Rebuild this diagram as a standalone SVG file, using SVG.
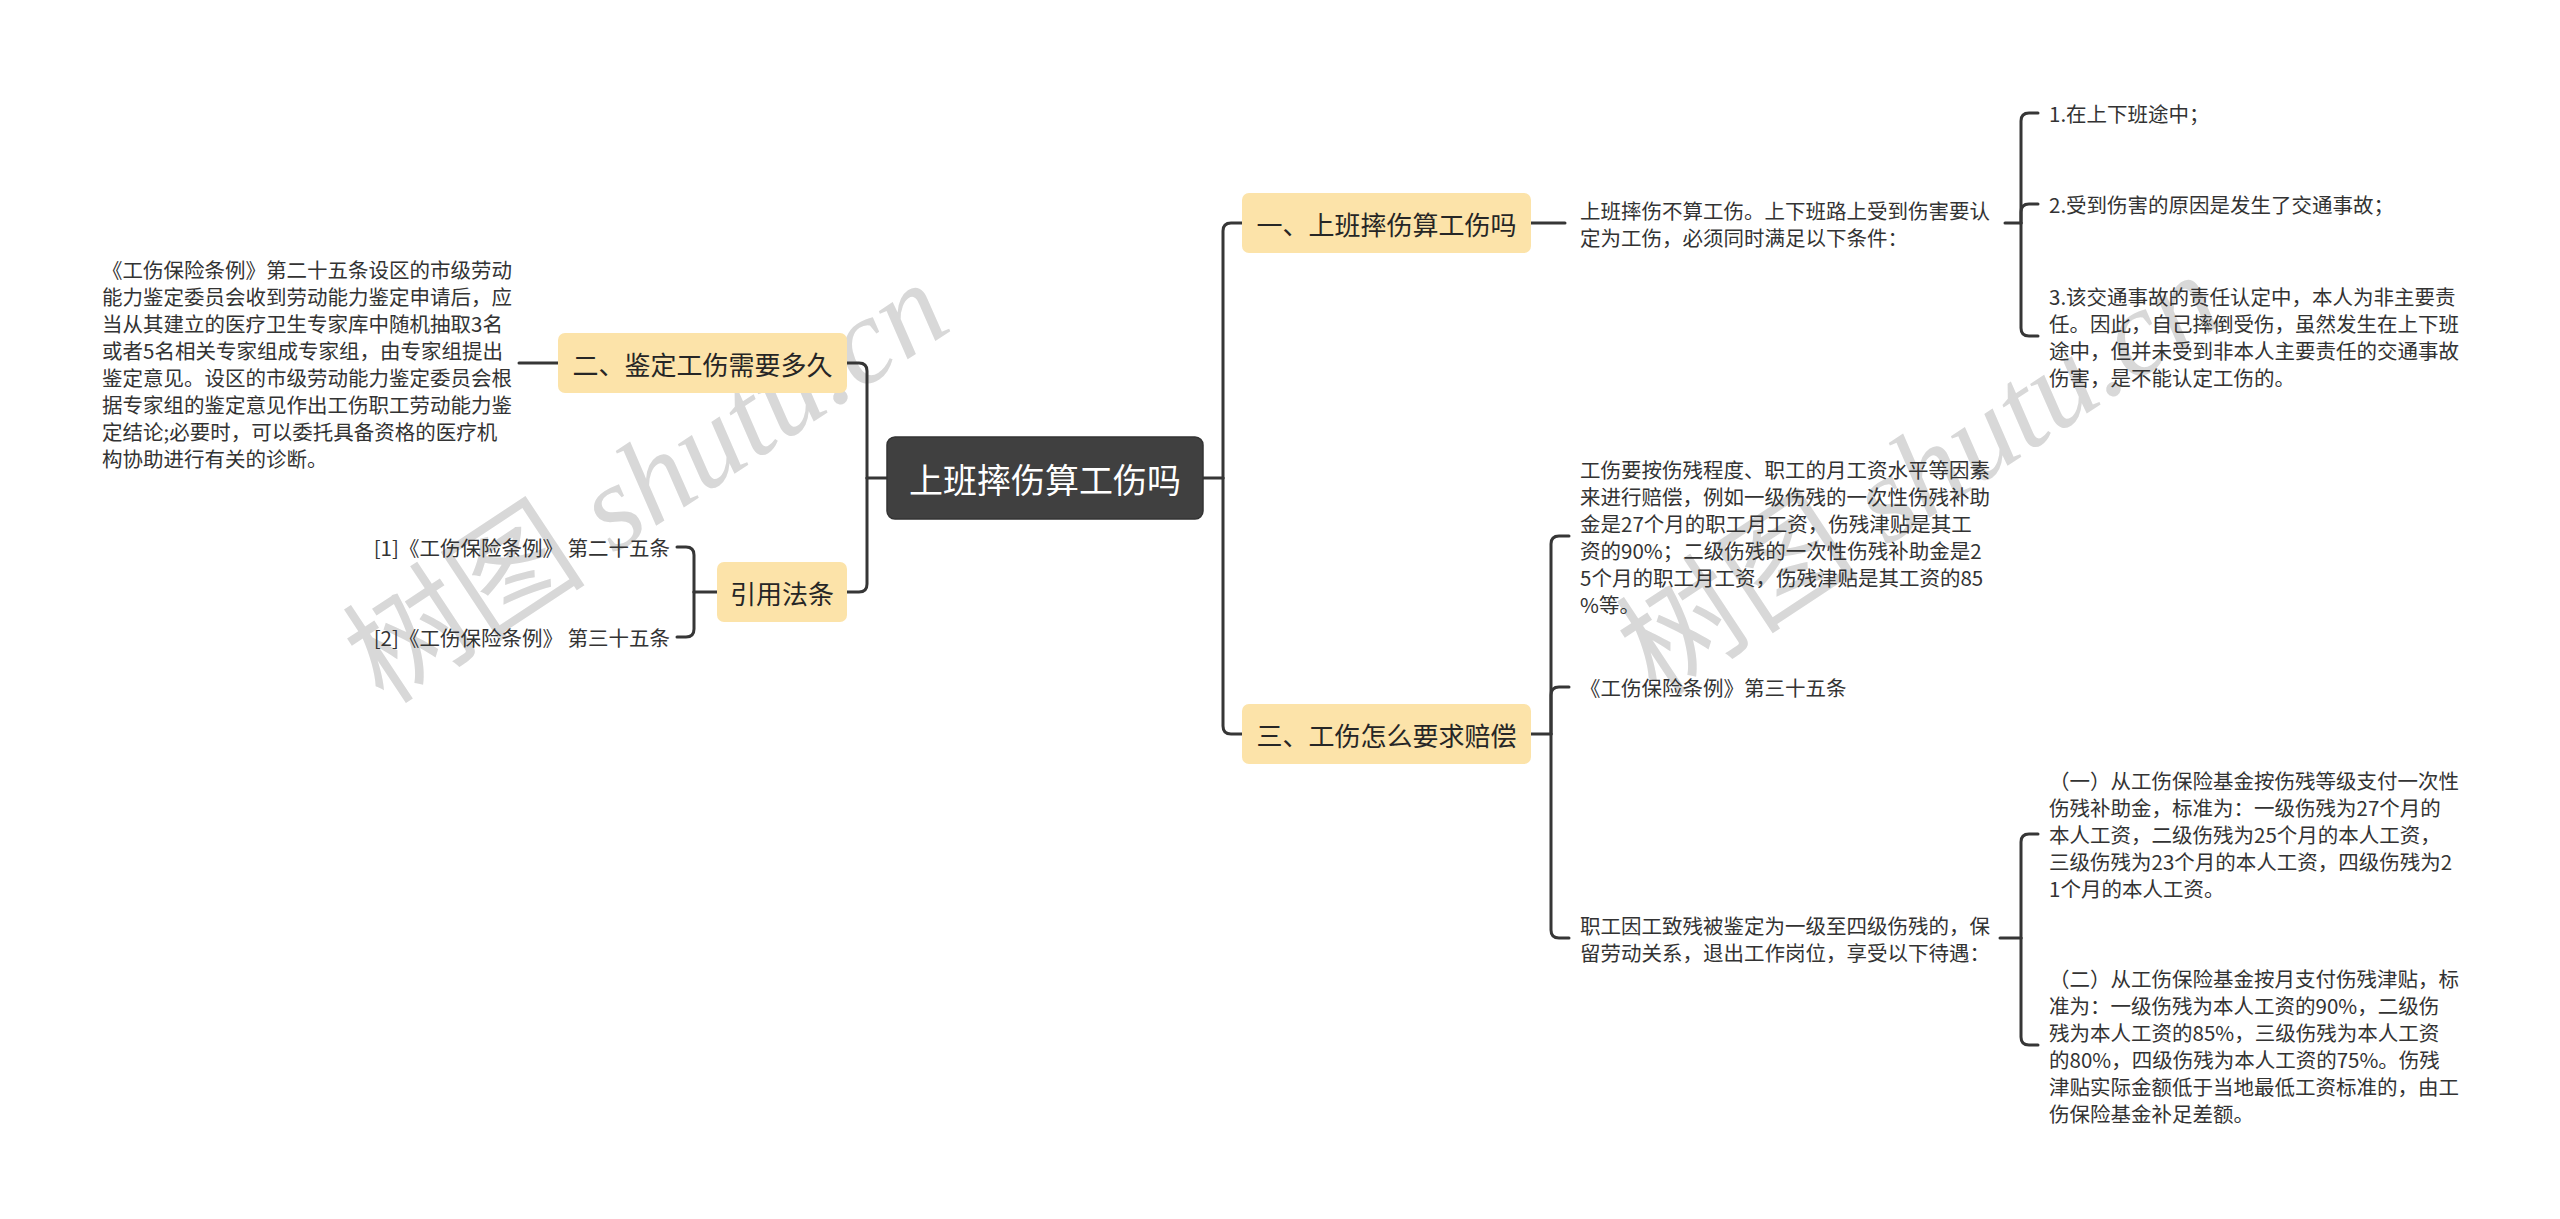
<svg xmlns="http://www.w3.org/2000/svg" width="2560" height="1219" viewBox="0 0 2560 1219">
<style>
text{font-family:"Noto Sans CJK SC","Noto Sans",sans-serif;}
.t{font-size:20.5px;fill:#333333;dominant-baseline:central;}
.l1{font-size:26px;fill:#262626;dominant-baseline:central;text-anchor:middle;}
.root{font-size:34px;fill:#ffffff;dominant-baseline:central;text-anchor:middle;}
.box1{fill:#FCE3A9;}
.rootbox{fill:#404040;stroke:#333333;stroke-width:1.5;}
.c{fill:none;stroke:#363636;stroke-width:3;stroke-linecap:round;}
.wm{font-size:122px;fill:#d8d8d8;}
.wmc{font-family:"Noto Sans CJK SC",sans-serif;font-weight:400;}
.wml{font-family:"Liberation Serif",serif;font-style:italic;}
</style>
<rect x="0" y="0" width="2560" height="1219" fill="#ffffff"/>
<g id="watermark">
<text class="wm" transform="translate(384,706) rotate(-33.5)"><tspan class="wmc">树图</tspan><tspan class="wml"> shutu.cn</tspan></text>
<text class="wm" transform="translate(1657,698) rotate(-33.5)"><tspan class="wmc">树图</tspan><tspan class="wml"> shutu.cn</tspan></text>
</g>
<g id="connectors">
<path class="c" d="M1203,478 H1223"/>
<path class="c" d="M1223,478 V231 Q1223,223 1231,223 H1242"/>
<path class="c" d="M1223,478 V726 Q1223,734 1231,734 H1242"/>
<path class="c" d="M887,478 H867"/>
<path class="c" d="M867,478 V371 Q867,363 859,363 H847"/>
<path class="c" d="M867,478 V584 Q867,592 859,592 H847"/>
<path class="c" d="M558,363 H519"/>
<path class="c" d="M717,592 H694"/>
<path class="c" d="M694,592 V555 Q694,547 686,547 H677"/>
<path class="c" d="M694,592 V629 Q694,637 686,637 H677"/>
<path class="c" d="M1531,223 H1565"/>
<path class="c" d="M2005,223 H2021"/>
<path class="c" d="M2021,223 V121 Q2021,113 2029,113 H2038"/>
<path class="c" d="M2021,223 V212 Q2021,204 2029,204 H2038"/>
<path class="c" d="M2021,223 V328 Q2021,336 2029,336 H2038"/>
<path class="c" d="M1531,734 H1551"/>
<path class="c" d="M1551,734 V544 Q1551,536 1559,536 H1569"/>
<path class="c" d="M1551,734 V695 Q1551,687 1559,687 H1569"/>
<path class="c" d="M1551,734 V930 Q1551,938 1559,938 H1569"/>
<path class="c" d="M2000,938 H2021"/>
<path class="c" d="M2021,938 V842 Q2021,834 2029,834 H2038"/>
<path class="c" d="M2021,938 V1037 Q2021,1045 2029,1045 H2038"/>
</g>
<g id="root">
<rect class="rootbox" x="887" y="437" width="316" height="82" rx="8"/>
<text class="root" x="1045" y="478">上班摔伤算工伤吗</text>
</g>
<g id="n1">
<rect class="box1" x="1242" y="193" width="289" height="60" rx="7"/>
<text class="l1" x="1386.5" y="223">一、上班摔伤算工伤吗</text>
</g>
<g id="n2">
<rect class="box1" x="558" y="333" width="289" height="60" rx="7"/>
<text class="l1" x="702.5" y="363">二、鉴定工伤需要多久</text>
</g>
<g id="n3">
<rect class="box1" x="1242" y="704" width="289" height="60" rx="7"/>
<text class="l1" x="1386.5" y="734">三、工伤怎么要求赔偿</text>
</g>
<g id="n4">
<rect class="box1" x="717" y="562" width="130" height="60" rx="7"/>
<text class="l1" x="782" y="592">引用法条</text>
</g>
<g id="n2a">
<text class="t" x="102" y="269">《工伤保险条例》第二十五条设区的市级劳动</text>
<text class="t" x="102" y="296">能力鉴定委员会收到劳动能力鉴定申请后，应</text>
<text class="t" x="102" y="323">当从其建立的医疗卫生专家库中随机抽取3名</text>
<text class="t" x="102" y="350">或者5名相关专家组成专家组，由专家组提出</text>
<text class="t" x="102" y="377">鉴定意见。设区的市级劳动能力鉴定委员会根</text>
<text class="t" x="102" y="404">据专家组的鉴定意见作出工伤职工劳动能力鉴</text>
<text class="t" x="102" y="431">定结论;必要时，可以委托具备资格的医疗机</text>
<text class="t" x="102" y="458">构协助进行有关的诊断。</text>
</g>
<g id="n4a">
<text class="t" x="670" y="547" text-anchor="end">[1]《工伤保险条例》 第二十五条</text>
</g>
<g id="n4b">
<text class="t" x="670" y="637" text-anchor="end">[2]《工伤保险条例》 第三十五条</text>
</g>
<g id="n1a">
<text class="t" x="1580" y="210">上班摔伤不算工伤。上下班路上受到伤害要认</text>
<text class="t" x="1580" y="237">定为工伤，必须同时满足以下条件：</text>
</g>
<g id="n1a1">
<text class="t" x="2049" y="113">1.在上下班途中；</text>
</g>
<g id="n1a2">
<text class="t" x="2049" y="204">2.受到伤害的原因是发生了交通事故；</text>
</g>
<g id="n1a3">
<text class="t" x="2049" y="296">3.该交通事故的责任认定中，本人为非主要责</text>
<text class="t" x="2049" y="323">任。因此，自己摔倒受伤，虽然发生在上下班</text>
<text class="t" x="2049" y="350">途中，但并未受到非本人主要责任的交通事故</text>
<text class="t" x="2049" y="377">伤害，是不能认定工伤的。</text>
</g>
<g id="n3a">
<text class="t" x="1580" y="468.5">工伤要按伤残程度、职工的月工资水平等因素</text>
<text class="t" x="1580" y="495.5">来进行赔偿，例如一级伤残的一次性伤残补助</text>
<text class="t" x="1580" y="522.5">金是27个月的职工月工资，伤残津贴是其工</text>
<text class="t" x="1580" y="549.5">资的90%；二级伤残的一次性伤残补助金是2</text>
<text class="t" x="1580" y="576.5">5个月的职工月工资，伤残津贴是其工资的85</text>
<text class="t" x="1580" y="603.5">%等。</text>
</g>
<g id="n3b">
<text class="t" x="1580" y="687">《工伤保险条例》第三十五条</text>
</g>
<g id="n3c">
<text class="t" x="1580" y="924.5">职工因工致残被鉴定为一级至四级伤残的，保</text>
<text class="t" x="1580" y="951.5">留劳动关系，退出工作岗位，享受以下待遇：</text>
</g>
<g id="n3c1">
<text class="t" x="2049" y="780">（一）从工伤保险基金按伤残等级支付一次性</text>
<text class="t" x="2049" y="807">伤残补助金，标准为：一级伤残为27个月的</text>
<text class="t" x="2049" y="834">本人工资，二级伤残为25个月的本人工资，</text>
<text class="t" x="2049" y="861">三级伤残为23个月的本人工资，四级伤残为2</text>
<text class="t" x="2049" y="888">1个月的本人工资。</text>
</g>
<g id="n3c2">
<text class="t" x="2049" y="977.5">（二）从工伤保险基金按月支付伤残津贴，标</text>
<text class="t" x="2049" y="1004.5">准为：一级伤残为本人工资的90%，二级伤</text>
<text class="t" x="2049" y="1031.5">残为本人工资的85%，三级伤残为本人工资</text>
<text class="t" x="2049" y="1058.5">的80%，四级伤残为本人工资的75%。伤残</text>
<text class="t" x="2049" y="1085.5">津贴实际金额低于当地最低工资标准的，由工</text>
<text class="t" x="2049" y="1112.5">伤保险基金补足差额。</text>
</g>
</svg>
